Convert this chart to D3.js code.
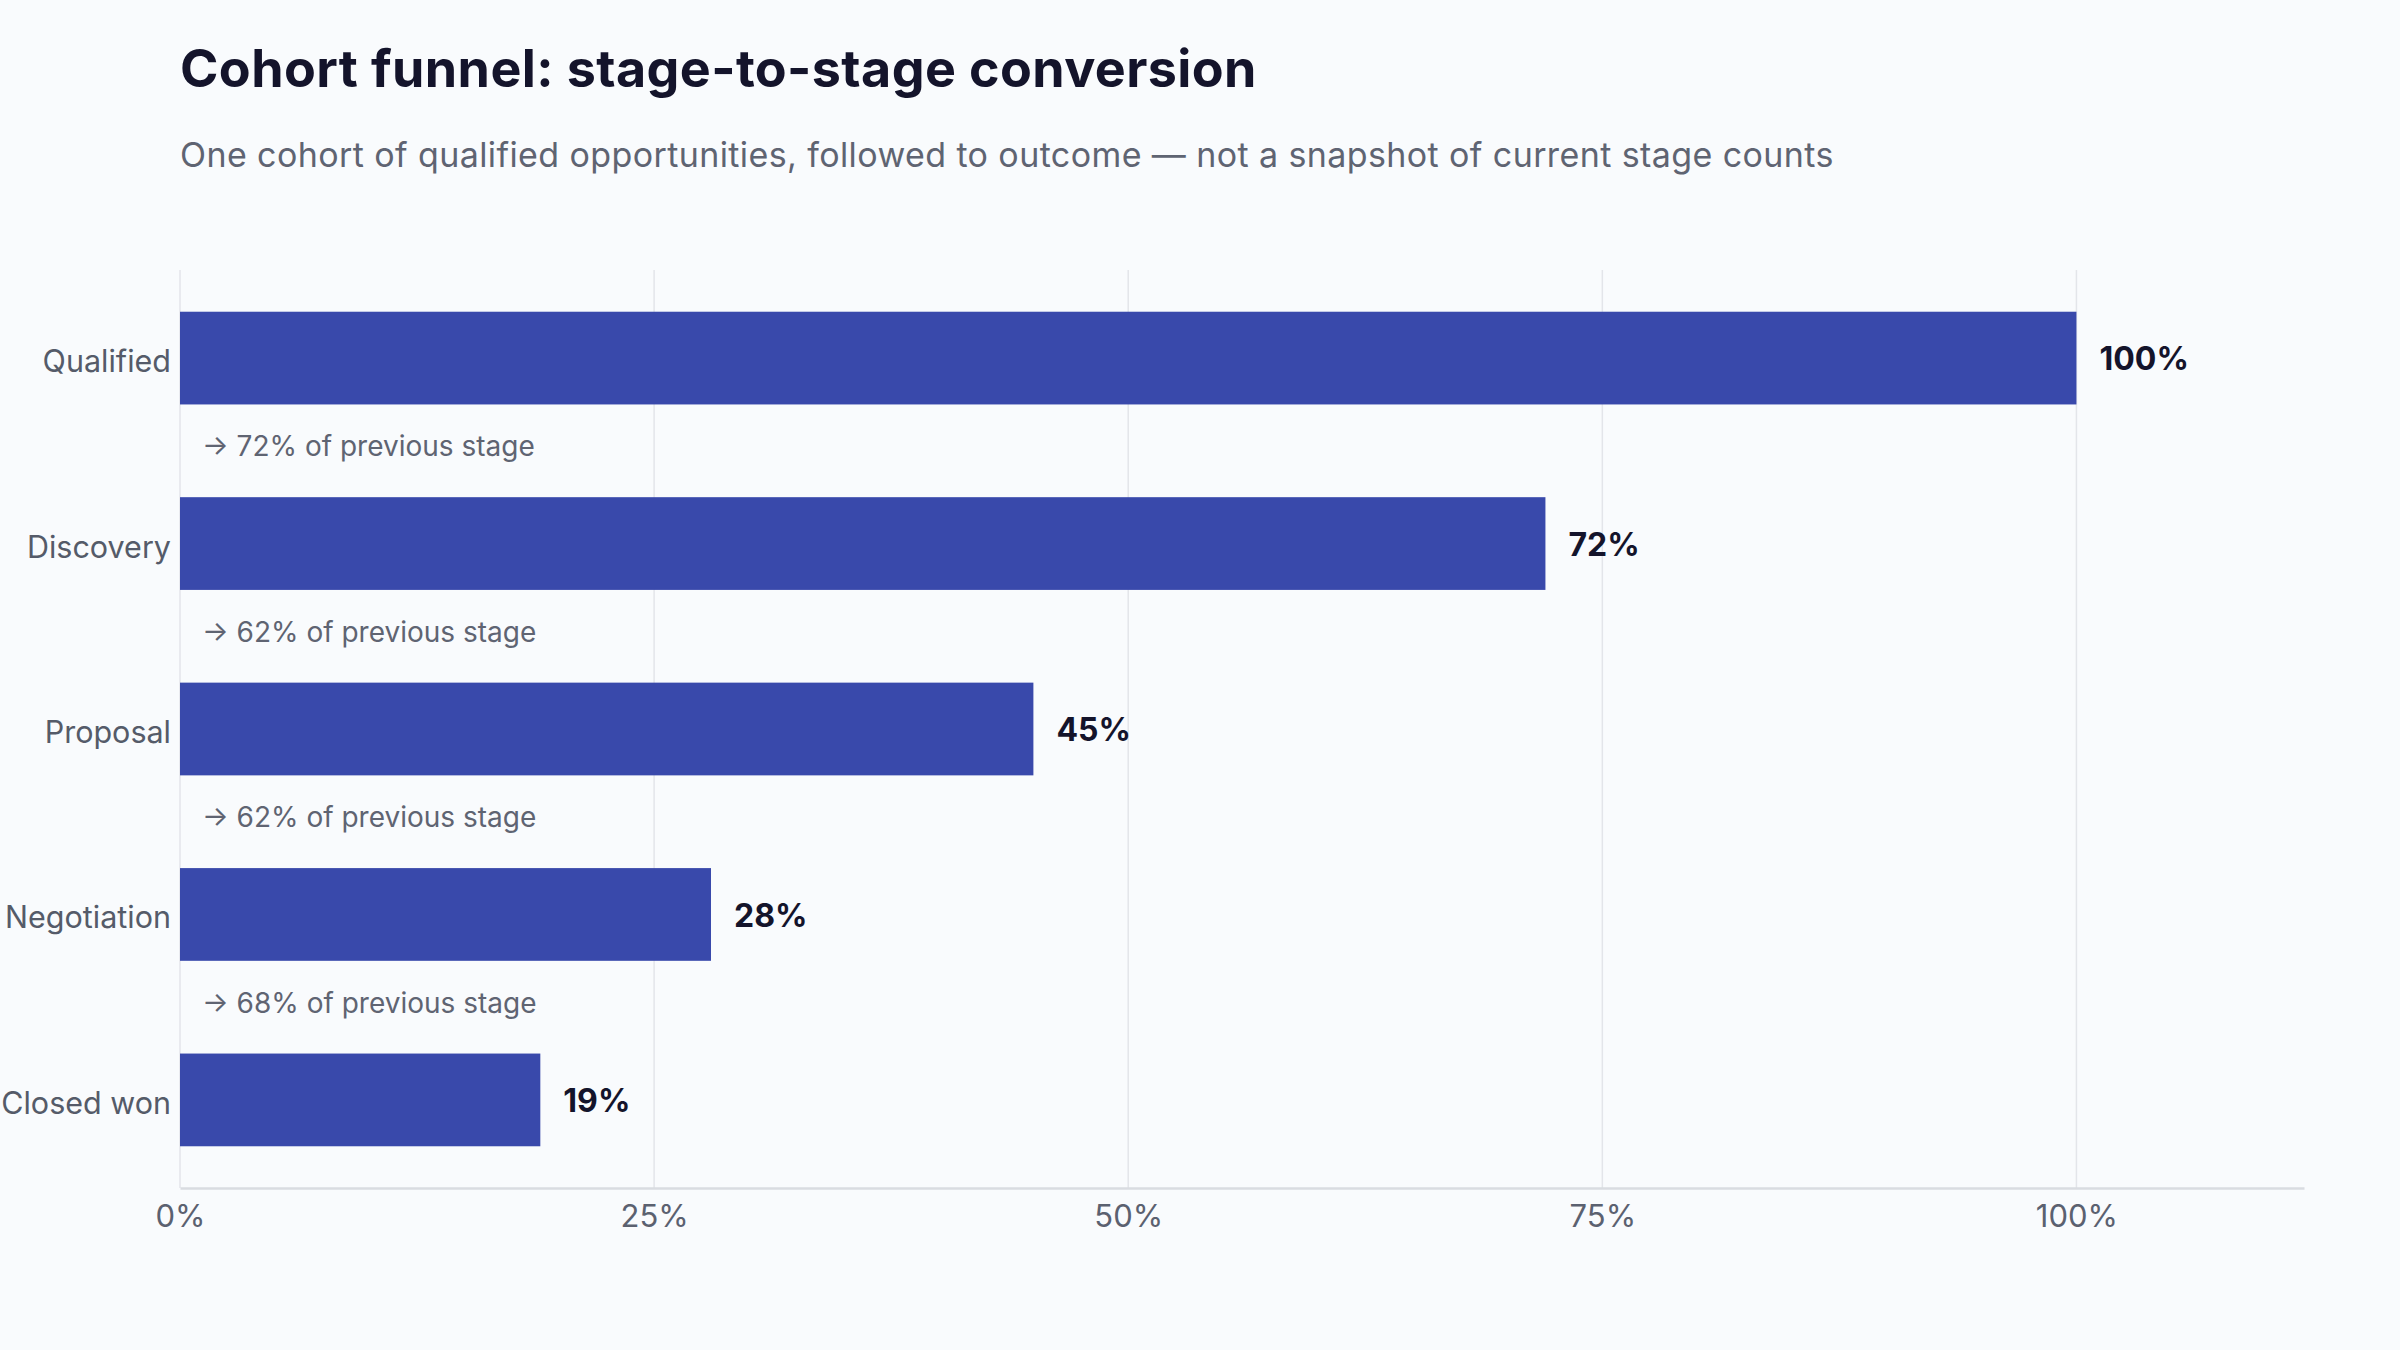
<!DOCTYPE html>
<html>
<head>
<meta charset="utf-8">
<script src="https://cdn.jsdelivr.net/npm/d3@7"></script>
<style>
  html, body { margin: 0; padding: 0; background: #f9fbfd; }
  svg { display: block; font-family: Inter, "Noto Sans", sans-serif; }
</style>
</head>
<body>
<div id="chart"></div>
<script>
// Data
const stages = ["Qualified", "Discovery", "Proposal", "Negotiation", "Closed won"]
const shareOfCohort = [100, 72, 45, 28, 19]
const stepConversion = [72, 62, 62, 68] // % of previous stage, between consecutive bars
const tickValues = [0, 25, 50, 75, 100]

const title = "Cohort funnel: stage-to-stage conversion"
const subtitle = "One cohort of qualified opportunities, followed to outcome \u2014 not a snapshot of current stage counts"

// Canvas
const width = 2400
const height = 1350
const margin = { top: 270, right: 96, bottom: 162, left: 180 }

const svg = d3.select("#chart").append("svg").attr("width", width).attr("height", height)

svg.append("rect").attr("width", width).attr("height", height).attr("fill", "#f9fbfd")

// Title and subtitle
svg
  .append("text")
  .attr("x", 180)
  .attr("y", 87)
  .attr("fill", "#14142b")
  .attr("font-size", 52)
  .attr("font-weight", 700)
  .attr("letter-spacing", 0.4)
  .text(title)

svg
  .append("text")
  .attr("x", 180)
  .attr("y", 167)
  .attr("fill", "#5f6472")
  .attr("font-size", 34)
  .attr("letter-spacing", 0.4)
  .text(subtitle)

// Scales
const x = d3
  .scaleLinear()
  .domain([0, 112])
  .range([margin.left, width - margin.right])

const y = d3
  .scaleBand()
  .domain(stages)
  .range([margin.top, height - margin.bottom])
  .paddingInner(0.5)
  .paddingOuter(0.225)

const rows = stages.map((s, i) => ({ stage: s, value: shareOfCohort[i] }))

// Vertical gridlines
svg
  .append("g")
  .attr("class", "grid")
  .selectAll("line")
  .data(tickValues)
  .enter()
  .append("line")
  .attr("x1", (d) => x(d))
  .attr("x2", (d) => x(d))
  .attr("y1", margin.top)
  .attr("y2", height - margin.bottom)
  .attr("stroke", "#e3e5ea")
  .attr("stroke-width", 1.5)

// Bars
svg
  .append("g")
  .selectAll("rect")
  .data(rows)
  .enter()
  .append("rect")
  .attr("x", x(0))
  .attr("y", (d) => y(d.stage))
  .attr("width", (d) => x(d.value) - x(0))
  .attr("height", y.bandwidth())
  .attr("fill", "#3949ab")

// Value labels at the bar ends
svg
  .append("g")
  .selectAll("text")
  .data(rows)
  .enter()
  .append("text")
  .attr("x", (d) => x(d.value) + 23)
  .attr("y", (d) => y(d.stage) + y.bandwidth() / 2)
  .attr("dy", "0.38em")
  .attr("fill", "#14142b")
  .attr("font-size", 32)
  .attr("font-weight", 700)
  .text((d) => `${d.value}%`)

// Stage labels on the left
svg
  .append("g")
  .selectAll("text")
  .data(rows)
  .enter()
  .append("text")
  .attr("x", margin.left - 9)
  .attr("y", (d) => y(d.stage) + y.bandwidth() / 2)
  .attr("dy", "0.46em")
  .attr("text-anchor", "end")
  .attr("fill", "#555b69")
  .attr("font-size", 30.5)
  .text((d) => d.stage)

// Conversion notes in the gaps between bars
const gap = y.step() - y.bandwidth()
svg
  .append("g")
  .selectAll("text")
  .data(stepConversion)
  .enter()
  .append("text")
  .attr("x", margin.left + 22)
  .attr("y", (d, i) => y(stages[i]) + y.bandwidth() + gap / 2)
  .attr("dy", "0.2em")
  .attr("fill", "#5f6472")
  .attr("font-size", 28)
  .text((d) => `\u2192 ${d}% of previous stage`)

// X axis
const xAxis = svg
  .append("g")
  .attr("transform", `translate(0,${height - margin.bottom})`)
  .call(
    d3
      .axisBottom(x)
      .tickValues(tickValues)
      .tickFormat((d) => `${d}%`)
      .tickSize(0)
      .tickSizeOuter(0)
      .tickPadding(17),
  )

xAxis.select(".domain").attr("stroke", "#d9dce1").attr("stroke-width", 2.5)
xAxis.selectAll("text").attr("fill", "#5b6170").attr("font-size", 31).attr("font-family", "Inter, sans-serif")
</script>
</body>
</html>
